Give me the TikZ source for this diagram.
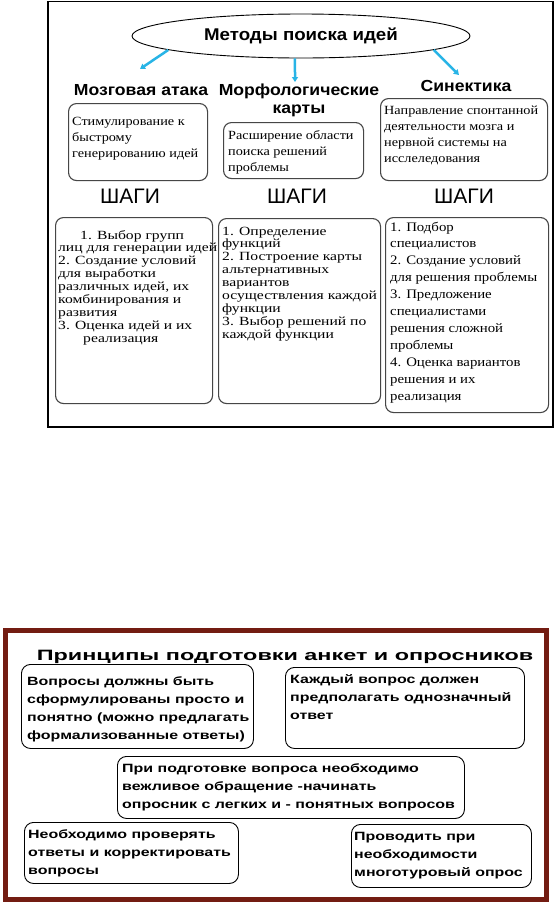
\documentclass[tikz,border=0pt]{standalone}
\usepackage{fontspec}
\setmainfont{Liberation Serif}
\newfontfamily\serA[FakeStretch=1.14]{Liberation Serif}
\newfontfamily\serB[FakeStretch=1.25]{Liberation Serif}
\newfontfamily\sansH[FakeStretch=1.1]{Liberation Sans}
\newfontfamily\sansP[FakeStretch=1.33]{Liberation Sans}
\newfontfamily\sansT[FakeStretch=1.56]{Liberation Sans}
\newfontfamily\sansS{Liberation Sans}
\usetikzlibrary{shapes.geometric,arrows.meta}
\definecolor{arrowcyan}{RGB}{40,180,230}
\definecolor{framered}{RGB}{115,28,18}
\definecolor{boxgray}{RGB}{70,70,70}
\newcommand\LLines[1]{\vtop{\halign{##\hfil\cr#1\crcr}}}
\newcommand\CLines[1]{\vtop{\halign{\hfil##\hfil\cr#1\crcr}}}
\begin{document}
\begin{tikzpicture}[x=1pt,y=-1pt,
  rbox/.style={draw=boxgray, line width=1.1pt, rounded corners=8pt, anchor=north west, inner sep=0pt},
  qbox/.style={draw=black, line width=0.9pt, rounded corners=9pt, anchor=north west, inner sep=0pt},
  txtA/.style={anchor=base west, inner sep=0pt, font=\serA\fontsize{12.5}{16.2}\selectfont},
  txtB/.style={anchor=base west, inner sep=0pt, font=\serB\fontsize{12.5}{12.9}\selectfont},
  txtC/.style={anchor=base west, inner sep=0pt, font=\serA\fontsize{13}{16.9}\selectfont},
  txtQ/.style={anchor=base west, inner sep=0pt, font=\sansP\bfseries\fontsize{12}{18}\selectfont},
  head/.style={anchor=base, inner sep=0pt, font=\sansH\bfseries\fontsize{16}{18}\selectfont},
  shagi/.style={anchor=base, inner sep=0pt, font=\sansS\fontsize{21}{24}\selectfont},
  cyanarrow/.style={draw=arrowcyan, line width=2.5pt, -{Triangle[length=5pt,width=6pt]}},
]
\useasboundingbox (0,0) rectangle (557,903);
\fill[white] (0,0) rectangle (557,903);

% ---------- top part ----------
\draw[line width=1.5pt] (48,1.5) rectangle (553,427);

\node[draw, ellipse, line width=0.9pt, minimum width=338pt, minimum height=44pt, inner sep=0pt,
      font=\sansH\bfseries\fontsize{17}{20}\selectfont] (m) at (301,36) {Методы поиска идей};

\node[head] (h1) at (141,95) {Мозговая атака};
\node[head] (h2) at (299,95) {\CLines{Морфологические\cr карты}};
\node[head] (h3) at (466,91) {Синектика};

\coordinate (e1) at (140,69);
\coordinate (e2) at (295,82);
\coordinate (e3) at (459,75);
\draw[cyanarrow] (m.186) -- (e1);
\draw[cyanarrow] (m.255) -- (e2);
\draw[cyanarrow] (m.354) -- (e3);

\node[rbox, minimum width=139pt, minimum height=77pt] (a1) at (68,103) {};
\node[rbox, minimum width=140pt, minimum height=56pt] (b1) at (223,122) {};
\node[rbox, minimum width=167pt, minimum height=82pt] (c1) at (380,98) {};

\node[txtA] (a1t) at (72,125) {\LLines{Стимулирование к\cr быстрому\cr генерированию идей}};
\node[txtA] (b1t) at (228,139) {\LLines{Расширение области\cr поиска решений\cr проблемы}};
\node[txtA] (c1t) at (384,114) {\LLines{Направление спонтанной\cr деятельности мозга и\cr нервной системы на\cr исслеледования}};

\node[shagi] (s1) at (130,203) {ШАГИ};
\node[shagi] (s2) at (297,203) {ШАГИ};
\node[shagi] (s3) at (464,203) {ШАГИ};

\node[rbox, minimum width=157pt, minimum height=186pt] (a2) at (55,217) {};
\node[rbox, minimum width=162pt, minimum height=185pt] (b2) at (218,218) {};
\node[rbox, minimum width=163pt, minimum height=195pt] (c2) at (385,217) {};

\node[txtB] (a2t) at (58,239) {\LLines{\hspace*{22pt}1. Выбор групп\cr лиц для генерации идей\cr 2. Создание условий\cr для выработки\cr различных идей, их\cr комбинирования и\cr развития\cr 3. Оценка идей и их\cr \hspace*{25pt}реализация}};
\node[txtB] (b2t) at (222,235) {\LLines{1. Определение\cr функций\cr 2. Построение карты\cr альтернативных\cr вариантов\cr осуществления каждой\cr функции\cr 3. Выбор решений по\cr каждой функции}};
\node[txtC] (c2t) at (390,231) {\LLines{1. Подбор\cr специалистов\cr 2. Создание условий\cr для решения проблемы\cr 3. Предложение\cr специалистами\cr решения сложной\cr проблемы\cr 4. Оценка вариантов\cr решения и их\cr реализация}};

% ---------- bottom part ----------
\draw[framered, line width=5pt] (5.5,630.5) rectangle (546.5,899.5);

\node[anchor=base, inner sep=0pt, font=\sansT\bfseries\fontsize{15}{18}\selectfont] (t) at (285,660)
  {Принципы подготовки анкет и опросников};

\node[qbox, minimum width=232pt, minimum height=84pt] (q1) at (21,664) {};
\node[qbox, minimum width=239pt, minimum height=81pt] (q2) at (285,667) {};
\node[qbox, minimum width=347pt, minimum height=62pt] (q3) at (117,756) {};
\node[qbox, minimum width=214pt, minimum height=61pt] (q4) at (24,822) {};
\node[qbox, minimum width=180pt, minimum height=63pt] (q5) at (351,824) {};

\node[txtQ] (q1t) at (27,685) {\LLines{Вопросы должны быть\cr сформулированы просто и\cr понятно (можно предлагать\cr формализованные ответы)}};
\node[txtQ] (q2t) at (290,683) {\LLines{Каждый вопрос должен\cr предполагать однозначный\cr ответ}};
\node[txtQ] (q3t) at (122,772) {\LLines{При подготовке вопроса необходимо\cr вежливое обращение -начинать\cr опросник с легких и - понятных вопросов}};
\node[txtQ] (q4t) at (28,838) {\LLines{Необходимо проверять\cr ответы и корректировать\cr вопросы}};
\node[txtQ] (q5t) at (354,840) {\LLines{Проводить при\cr необходимости\cr многотуровый опрос}};
\end{tikzpicture}
\end{document}
